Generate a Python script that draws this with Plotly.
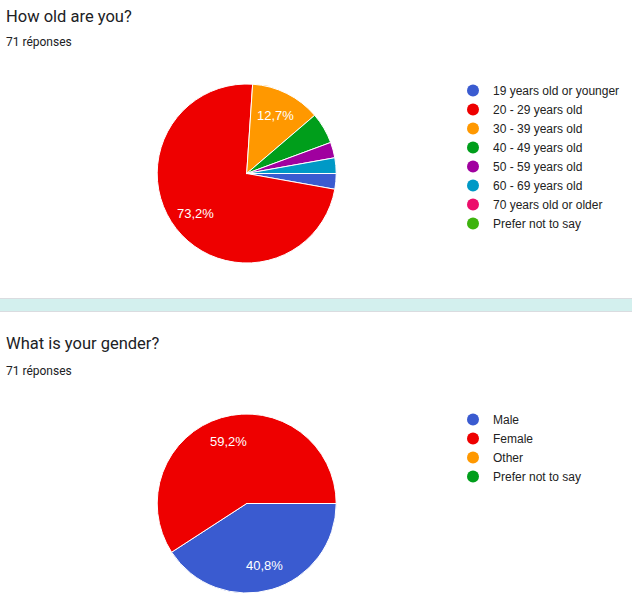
import math
import plotly.graph_objects as go

W, H = 632, 607

# Survey answers (counts out of 71 responses)
age_labels = ["19 years old or younger", "20 - 29 years old", "30 - 39 years old",
              "40 - 49 years old", "50 - 59 years old", "60 - 69 years old",
              "70 years old or older", "Prefer not to say"]
age_counts = [2, 52, 9, 4, 2, 2, 0, 0]

gender_labels = ["Male", "Female", "Other", "Prefer not to say"]
gender_counts = [29, 42, 0, 0]

palette = ["#3a5bd0", "#ee0000", "#ff9800", "#009e1b",
           "#a0009f", "#0099c6", "#ec0e6b", "#3eb30e"]
gender_colors = ["#3a5bd0", "#ee0000", "#ff9800", "#009e1b"]

TEXT = "#202124"
START_DEG = 90          # first slice starts at 3 o'clock, going clockwise
PIE_R = 89.5            # pie radius in px
LABEL_FRAC = 0.72       # percentage labels sit at this fraction of the radius


def fmt_pct(share):
    return f"{share * 100:.1f}".replace(".", ",") + "%"


def px_domain(cx, cy, r):
    return dict(x=[(cx - r) / W, (cx + r) / W], y=[1 - (cy + r) / H, 1 - (cy - r) / H])


def slice_labels(counts, cx, cy, min_share=0.1):
    """Percentage annotations placed along each big slice's mid-angle."""
    total = sum(counts)
    out, acc = [], 0
    for c in counts:
        share = c / total
        mid = math.radians(START_DEG + 360 * (acc + share / 2))
        acc += share
        if share < min_share:
            continue
        x = cx + LABEL_FRAC * PIE_R * math.sin(mid)
        y = cy - LABEL_FRAC * PIE_R * math.cos(mid)
        out.append(dict(text=fmt_pct(share), x=x / W, y=1 - y / H, xref="paper", yref="paper",
                        xanchor="center", yanchor="middle", showarrow=False,
                        font=dict(family="Liberation Sans, Arial", size=13, color="white")))
    return out


fig = go.Figure()

pies = [
    (age_labels, age_counts, palette, (246.7, 173.5)),
    (gender_labels, gender_counts, gender_colors, (246.7, 503.5)),
]
annotations = []
for labels, counts, colors, (cx, cy) in pies:
    fig.add_trace(go.Pie(
        labels=labels, values=counts, textinfo="none",
        marker=dict(colors=colors, line=dict(color="white", width=1)),
        sort=False, direction="clockwise", rotation=START_DEG,
        domain=px_domain(cx, cy, PIE_R), showlegend=False, hoverinfo="label+percent",
    ))
    annotations += slice_labels(counts, cx, cy)

# Round legend keys, one legend per question
for lab, col in zip(age_labels, palette):
    fig.add_trace(go.Scatter(x=[None], y=[None], mode="markers", name=lab,
                             marker=dict(symbol="circle", size=12, color=col),
                             legend="legend"))
for lab, col in zip(gender_labels, gender_colors):
    fig.add_trace(go.Scatter(x=[None], y=[None], mode="markers", name=lab,
                             marker=dict(symbol="circle", size=12, color=col),
                             legend="legend2"))

legend_style = dict(
    font=dict(family="Liberation Sans, Arial", size=12, color="#222222"),
    bgcolor="rgba(0,0,0,0)", borderwidth=0, itemwidth=30,
    xanchor="left", yanchor="top", itemclick=False, itemdoubleclick=False,
)

for title, y_title, y_sub in [("How old are you?", 17, 42),
                              ("What is your gender?", 343, 371)]:
    annotations.append(dict(text=title, x=4 / W, y=1 - y_title / H, xref="paper", yref="paper",
                            xanchor="left", yanchor="middle", showarrow=False,
                            font=dict(family="Roboto", size=16.5, color=TEXT)))
    annotations.append(dict(text="71 réponses", x=4 / W, y=1 - y_sub / H, xref="paper",
                            yref="paper", xanchor="left", yanchor="middle", showarrow=False,
                            font=dict(family="Roboto", size=12, color=TEXT)))

fig.update_layout(
    width=W, height=H, margin=dict(l=0, r=0, t=0, b=0),
    paper_bgcolor="white", plot_bgcolor="white",
    xaxis=dict(visible=False, domain=[0, 0.01]), yaxis=dict(visible=False, domain=[0, 0.01]),
    legend=dict(x=453 / W, y=1 - 76 / H, **legend_style),
    legend2=dict(x=453 / W, y=1 - 405 / H, **legend_style),
    annotations=annotations,
    shapes=[
        dict(type="rect", xref="paper", yref="paper", x0=-0.01, x1=1.01,
             y0=1 - 311.5 / H, y1=1 - 298.5 / H, fillcolor="#d3f0ee",
             line=dict(color="#dadce0", width=1), layer="below"),
    ],
)

fig.write_html("out.html")
